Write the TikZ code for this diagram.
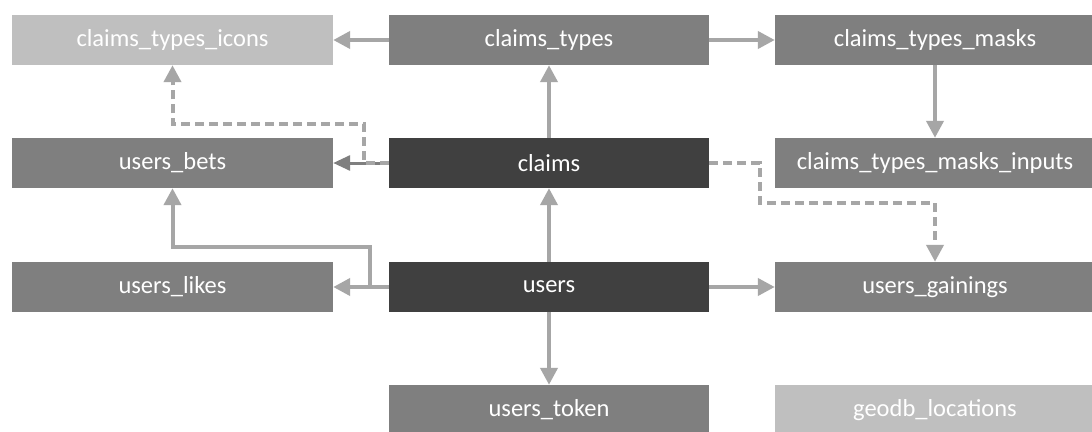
\documentclass[tikz,border=0pt]{standalone}
\usepackage{fontspec}
\setmainfont{Carlito}
\usetikzlibrary{arrows.meta}
\definecolor{lightbox}{HTML}{BFBFBF}
\definecolor{midbox}{HTML}{7F7F7F}
\definecolor{darkbox}{HTML}{404040}
\definecolor{linegray}{HTML}{A6A6A6}
\definecolor{darkline}{HTML}{7F7F7F}
\tikzset{
  tbl/.style={rectangle, inner sep=0pt, minimum height=50pt, text=white,
    font=\fontsize{24.5}{28}\selectfont},
  colA/.style={tbl, minimum width=321pt},
  colB/.style={tbl, minimum width=320pt},
  colC/.style={tbl, minimum width=320pt},
  rel/.style={draw=linegray, line width=4pt, -{Triangle[length=17pt,width=17pt]}},
  reldark/.style={draw=darkline, line width=3pt, -{Triangle[length=17pt,width=15pt]}},
  reldash/.style={draw=linegray, line width=4pt, dash pattern=on 9pt off 5pt, -{Triangle[length=17pt,width=17pt]}}
}
\begin{document}
\begin{tikzpicture}[x=1pt,y=-1pt]
\useasboundingbox (0,0) rectangle (1092,431);
\fill[white] (0,0) rectangle (1092,431);
% row 1
\node[colA, fill=lightbox] (cti) at (172.5,40) {claims\_types\_icons};
\node[colB, fill=midbox] (ct) at (549,40) {claims\_types};
\node[colC, fill=midbox] (ctm) at (935,40) {claims\_types\_masks};
% row 2
\node[colA, fill=midbox] (ub) at (172.5,163) {users\_bets};
\node[colB, fill=darkbox] (cl) at (549,163) {claims};
\node[colC, fill=midbox] (ctmi) at (935,163) {claims\_types\_masks\_inputs};
% row 3
\node[colA, fill=midbox] (ul) at (172.5,287) {users\_likes};
\node[colB, fill=darkbox] (us) at (549,287) {users};
\node[colC, fill=midbox] (ug) at (935,287) {users\_gainings};
% row 4
\node[colB, fill=midbox] (ut) at (549,410) {users\_token};
\node[colC, fill=lightbox] (geo) at (935,410) {geodb\_locations};
% coordinates
\coordinate (d1) at (364,163);
\coordinate (d2) at (364,124);
\coordinate (d3) at (172.5,124);
\coordinate (e1) at (760,163);
\coordinate (e2) at (760,203);
\coordinate (e3) at (935,203);
\coordinate (b1) at (370,287);
\coordinate (b2) at (370,247);
\coordinate (b3) at (172.5,247);
% connectors
\draw[rel] (ct.west) -- (cti.east);
\draw[rel] (ct.east) -- (ctm.west);
\draw[rel] (ctm.south) -- (ctmi.north);
\draw[rel] (cl.north) -- (ct.south);
\draw[reldark] (cl.west) -- (ub.east);
\draw[reldash] (cl.west) -- (d1) -- (d2) -- (d3) -- (cti.south);
\draw[reldash] (cl.east) -- (e1) -- (e2) -- (e3) -- (ug.north);
\draw[rel] (us.north) -- (cl.south);
\draw[rel] (us.west) -- (ul.east);
\draw[rel] (b1) -- (b2) -- (b3) -- (ub.south);
\draw[rel] (us.east) -- (ug.west);
\draw[rel] (us.south) -- (ut.north);
\end{tikzpicture}
\end{document}
